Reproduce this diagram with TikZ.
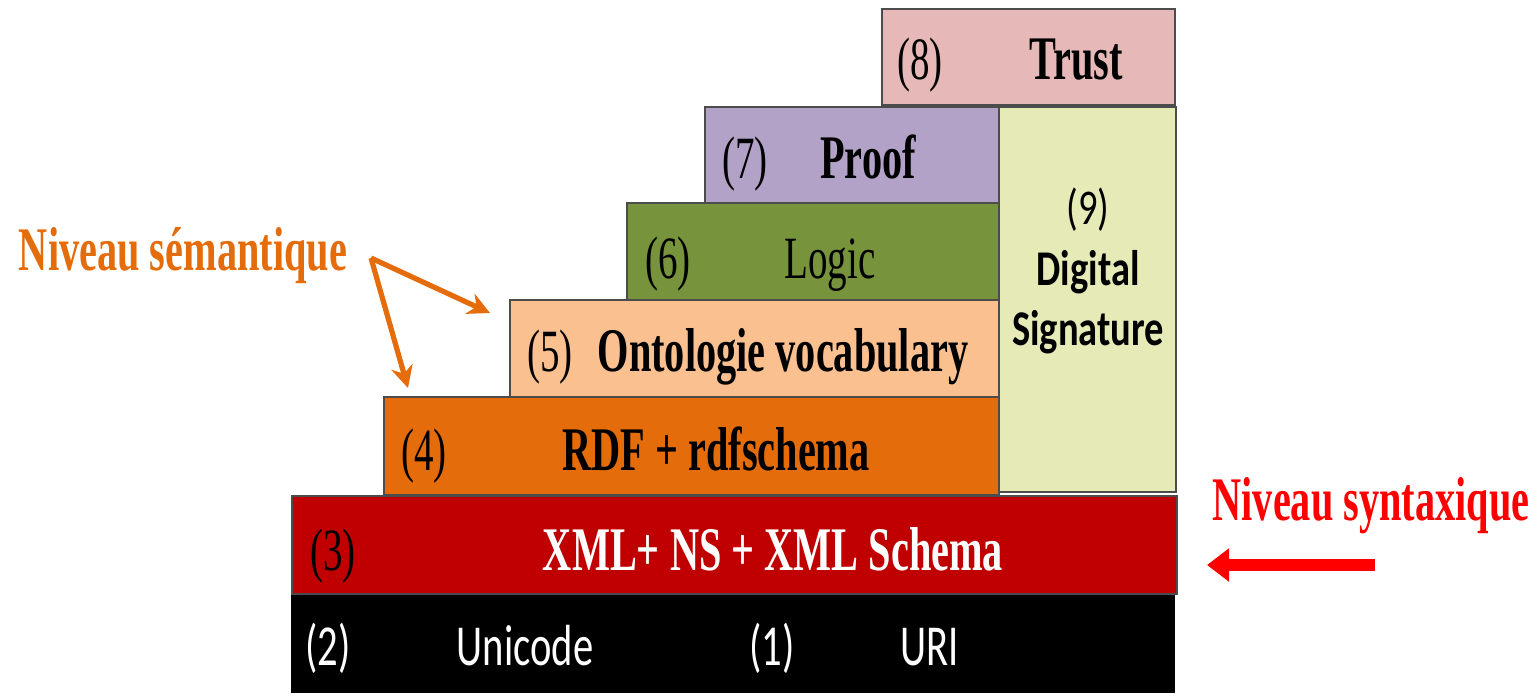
\documentclass[tikz,border=0pt]{standalone}
\usepackage{fontspec}
\usetikzlibrary{arrows.meta}
\newfontfamily\serifc[FakeStretch=0.65]{Liberation Serif}
\newfontfamily\carfont[FakeStretch=0.77]{Carlito}
\newfontfamily\carnarrow[FakeStretch=0.70]{Carlito}
\definecolor{trustcol}{HTML}{E6B9B8}
\definecolor{proofcol}{HTML}{B3A2C7}
\definecolor{logiccol}{HTML}{77933C}
\definecolor{ontocol}{HTML}{FAC090}
\definecolor{rdfcol}{HTML}{E46C0A}
\definecolor{xmlcol}{HTML}{C00000}
\definecolor{sigcol}{HTML}{E6EAB6}
\definecolor{semcol}{HTML}{E46C0A}
\begin{document}
\begin{tikzpicture}[
   x=0.5pt, y=-0.5pt,
   layer/.style={draw=black!70, line width=0.8pt},
   num/.style={anchor=base, inner sep=0pt, font=\serifc\fontsize{30}{36}\selectfont},
   title/.style={anchor=base, inner sep=0pt, font=\serifc\bfseries\fontsize{31}{36}\selectfont},
   sans/.style={anchor=base, inner sep=0pt, font=\carfont\fontsize{25}{30}\selectfont},
   sansbold/.style={sans, font=\carfont\bfseries\fontsize{25}{30}\selectfont},
   base/.style={anchor=base, inner sep=0pt, white, font=\carnarrow\fontsize{29}{34}\selectfont},
   levelarrow/.style={semcol, line width=2.6pt, -{Stealth[length=11pt,width=11pt]}}]

\useasboundingbox (0,0) rectangle (1539,693);

\fill[black] (291,594) rectangle (1175,693);
\draw[layer, fill=xmlcol] (292,496) rectangle (1177,594);
\draw[layer, fill=rdfcol] (384,397) rectangle (999,495);
\draw[layer, fill=ontocol] (510,300) rectangle (999,397);
\draw[layer, fill=logiccol] (627,203) rectangle (999,300);
\draw[layer, fill=proofcol] (705,107) rectangle (999,203);
\draw[layer, fill=trustcol] (882,9) rectangle (1175,105);
\draw[layer, fill=sigcol] (999,107) rectangle (1176,492);

\node[num] (n8) at (920,79) {(8)};
\node[title] (trust) at (1076,79) {Trust};
\node[num] (n7) at (745,178) {(7)};
\node[title] (proof) at (868,178) {Proof};
\node[num] (n6) at (668,278) {(6)};
\node[num] (logic) at (830,278) {Logic};
\node[num] (n5) at (550,371) {(5)};
\node[title] (onto) at (783,371) {Ontologie vocabulary};
\node[num] (n4) at (424,470) {(4)};
\node[title] (rdf) at (716,470) {RDF + rdfschema};
\node[num] (n3) at (333,570) {(3)};
\node[title, white] (xml) at (773,570) {XML+ NS + XML Schema};
\node[base] (n2) at (328,665) {(2)};
\node[base] (unicode) at (525,665) {Unicode};
\node[base] (n1) at (772,665) {(1)};
\node[base] (uri) at (930,665) {URI};
\node[sans] (n9) at (1088,224) {(9)};
\node[sansbold] (digital) at (1088,285) {Digital};
\node[sansbold] (signature) at (1088,345) {Signature};

\node[title, semcol] (semlab) at (183,270) {Niveau sémantique};
\node[title, red] (synlab) at (1371,520) {Niveau syntaxique};

\coordinate (fork) at (371,258);
\coordinate (ontotip) at (490,313);
\coordinate (rdftip) at (408,388);
\draw[levelarrow] (fork) -- (ontotip);
\draw[levelarrow] (fork) -- (rdftip);

\coordinate (syntail) at (1375,565);
\coordinate (syntip) at (1207,565);
\draw[red, line width=6pt, -{Triangle[length=11pt,width=16pt]}] (syntail) -- (syntip);

\end{tikzpicture}
\end{document}
